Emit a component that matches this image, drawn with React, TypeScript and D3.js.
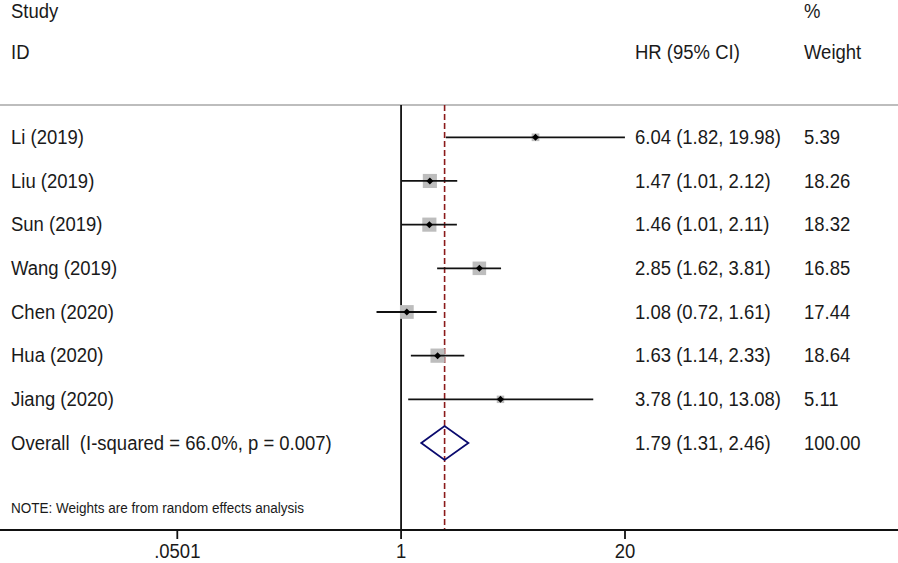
import React from "react";
import * as d3 from "d3";

const studies = ["Li (2019)", "Liu (2019)", "Sun (2019)", "Wang (2019)", "Chen (2020)", "Hua (2020)", "Jiang (2020)"];
const hr = [6.04, 1.47, 1.46, 2.85, 1.08, 1.63, 3.78];
const lower = [1.82, 1.01, 1.01, 1.62, 0.72, 1.14, 1.1];
const upper = [19.98, 2.12, 2.11, 3.81, 1.61, 2.33, 13.08];
const weights = [5.39, 18.26, 18.32, 16.85, 17.44, 18.64, 5.11];
const overallLabel = "Overall  (I-squared = 66.0%, p = 0.007)";
const overall = { hr: 1.79, lo: 1.31, hi: 2.46, w: 100.0 };
const tickValues = [0.0501, 1, 20];
const tickLabels = [".0501", "1", "20"];

const W = 898;
const H = 563;
const FONT = "'Liberation Sans', Arial, sans-serif";
const TXT = "#1a1a1a";

type TProps = {
  x: number;
  y: number;
  size?: number;
  anchor?: "start" | "middle" | "end";
  children: React.ReactNode;
  textLength?: number;
};

function T({ x, y, size = 18.5, anchor = "start", children, textLength }: TProps) {
  return (
    <text
      transform={`translate(${x},${y}) scale(1,1.08)`}
      fontSize={size}
      fill={TXT}
      textAnchor={anchor}
      dominantBaseline="central"
      style={{ whiteSpace: "pre" }}
      textLength={textLength}
      lengthAdjust={textLength ? "spacingAndGlyphs" : undefined}
    >
      {children}
    </text>
  );
}

export default function App() {
  const x = d3.scaleLog().domain([0.0501, 20]).range([177.3, 625]);
  const rowY = d3
    .scalePoint<number>()
    .domain(d3.range(studies.length + 1))
    .range([137.3, 443]);
  const boxSide = (w: number) => 3.3 * Math.sqrt(w);
  const f2 = d3.format(".2f");
  const ciText = (a: number, b: number, c: number) => `${f2(a)} (${f2(b)}, ${f2(c)})`;
  const axisY = 530;
  const topY = 105;
  const oy = rowY(studies.length)!;
  const dh = 17;

  return (
    <div style={{ position: "absolute", left: 0, top: 0 }}>
      <svg width={W} height={H} style={{ display: "block", background: "#fff" }} fontFamily={FONT}>
        {/* header */}
        <T x={11} y={11}>Study</T>
        <T x={11} y={52}>ID</T>
        <T x={635} y={52}>HR (95% CI)</T>
        <T x={804} y={11}>%</T>
        <T x={804} y={52}>Weight</T>

        {/* top rule */}
        <line x1={0} x2={W} y1={topY} y2={topY} stroke="#bdbdbd" strokeWidth={2} />

        {/* null line */}
        <line x1={x(1)} x2={x(1)} y1={topY} y2={axisY} stroke="#111" strokeWidth={1.8} />
        {/* overall dashed line */}
        <line x1={x(overall.hr)} x2={x(overall.hr)} y1={topY} y2={axisY} stroke="#8b1a1a" strokeWidth={1.6} strokeDasharray="6,3" />

        {/* studies */}
        {studies.map((s, i) => {
          const y = rowY(i)!;
          const side = boxSide(weights[i]);
          return (
            <g key={s}>
              <T x={11} y={y}>{s}</T>
              <rect x={x(hr[i]) - side / 2} y={y - side / 2} width={side} height={side} fill="#bdbdbd" />
              <line x1={x(lower[i])} x2={x(upper[i])} y1={y} y2={y} stroke="#111" strokeWidth={1.8} />
              <path d={`M${x(hr[i]) - 3.5},${y} L${x(hr[i])},${y - 3.5} L${x(hr[i]) + 3.5},${y} L${x(hr[i])},${y + 3.5} Z`} fill="#000" />
              <T x={635} y={y}>{ciText(hr[i], lower[i], upper[i])}</T>
              <T x={804} y={y}>{f2(weights[i])}</T>
            </g>
          );
        })}

        {/* overall */}
        <T x={11} y={oy}>{overallLabel}</T>
        <path
          d={`M${x(overall.lo)},${oy} L${x(overall.hr)},${oy - dh} L${x(overall.hi)},${oy} L${x(overall.hr)},${oy + dh} Z`}
          fill="none"
          stroke="#0a0a6e"
          strokeWidth={1.8}
        />
        <T x={635} y={oy}>{ciText(overall.hr, overall.lo, overall.hi)}</T>
        <T x={804} y={oy}>{f2(overall.w)}</T>

        {/* note */}
        <T x={11} y={508} size={13} textLength={293}>NOTE: Weights are from random effects analysis</T>

        {/* axis */}
        <line x1={0} x2={W} y1={axisY} y2={axisY} stroke="#111" strokeWidth={1.8} />
        {tickValues.map((t, i) => (
          <g key={t}>
            <line x1={x(t)} x2={x(t)} y1={axisY} y2={axisY + 9} stroke="#111" strokeWidth={1.8} />
            <T x={x(t)} y={551.5} anchor="middle">{tickLabels[i]}</T>
          </g>
        ))}
      </svg>
    </div>
  );
}
